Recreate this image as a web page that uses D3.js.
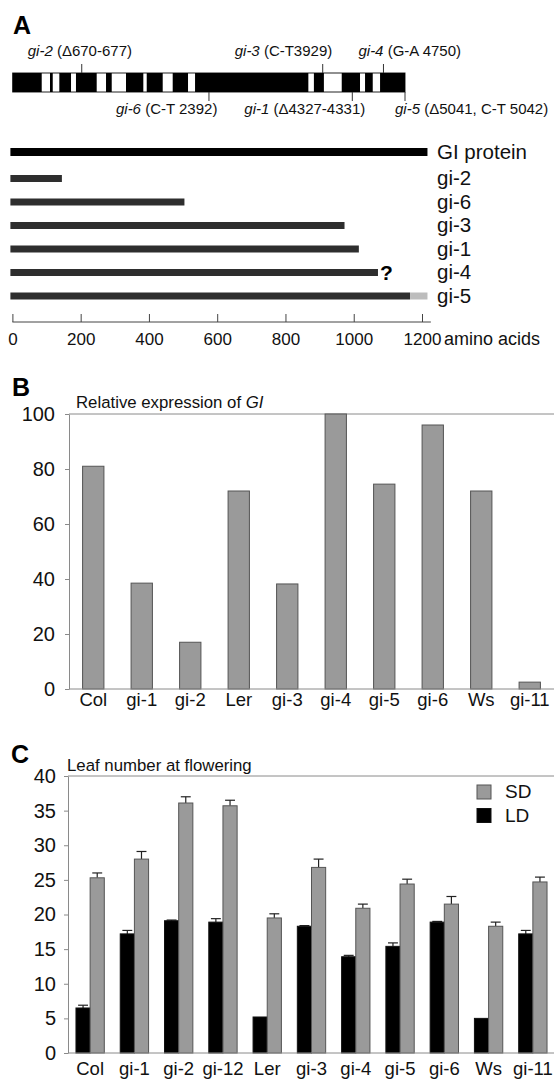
<!DOCTYPE html>
<html>
<head>
<meta charset="utf-8">
<script src="https://cdn.jsdelivr.net/npm/d3@7"></script>
<style>
  html, body { margin: 0; padding: 0; background: #fff; }
  svg { display: block; }
</style>
</head>
<body>
<script>
// ---------------- DATA ----------------
// Panel A: gene structure (bp coordinates)
const geneSpan = [-260, 5041];
const geneExons = [[-260,132],[244,281],[370,528],[595,875],[1001,1078],[1271,1505],[1551,1767],[1902,2109],[2204,3735],[3810,3945],[4186,4433],[4501,4605],[4704,5041]];
const mutNames = ["gi-2", "gi-3", "gi-4", "gi-6", "gi-1", "gi-5"];
const mutDetails = ["(\u0394670-677)", "(C-T3929)", "(G-A 4750)", "(C-T 2392)", "(\u03944327-4331)", "(\u03945041, C-T 5042)"];
const mutPositions = [673, 3929, 4750, 2392, 4329, 5041];
const mutSides = ["top", "top", "top", "bottom", "bottom", "bottom"];

// Panel A: protein lengths (amino acids)
const proteinNames = ["GI protein", "gi-2", "gi-6", "gi-3", "gi-1", "gi-4", "gi-5"];
const proteinLengths = [1216, 145, 504, 973, 1015, 1071, 1165];
const gi5Extension = [1165, 1216];
const aaTicks = [0, 200, 400, 600, 800, 1000, 1200];

// Panel B: relative expression of GI
const bLabels = ["Col", "gi-1", "gi-2", "Ler", "gi-3", "gi-4", "gi-5", "gi-6", "Ws", "gi-11"];
const bValues = [81, 38.5, 17, 72, 38.2, 100, 74.5, 96, 72, 2.5];
const bTicks = [0, 20, 40, 60, 80, 100];

// Panel C: leaf number at flowering
const cLabels = ["Col", "gi-1", "gi-2", "gi-12", "Ler", "gi-3", "gi-4", "gi-5", "gi-6", "Ws", "gi-11"];
const seriesNames = ["LD", "SD"];
const ldValues = [6.5, 17.2, 19.1, 18.9, 5.2, 18.3, 13.9, 15.4, 18.9, 5.0, 17.2];
const ldErrors = [0.4, 0.5, 0.1, 0.5, 0, 0.1, 0.2, 0.5, 0.1, 0, 0.5];
const sdValues = [25.3, 28, 36.1, 35.7, 19.5, 26.8, 20.9, 24.4, 21.5, 18.3, 24.7];
const sdErrors = [0.7, 1.1, 0.9, 0.8, 0.6, 1.2, 0.6, 0.7, 1.1, 0.6, 0.7];
const cTicks = [0, 5, 10, 15, 20, 25, 30, 35, 40];

// ---------------- LAYOUT / STYLE ----------------
const W = 554, H = 1084;
const FONT = "'Liberation Sans', Arial, Helvetica, sans-serif";
const mutLabelDx = [-54, -88, -25, -93, -108, -10];
const grayFill = "#9a9a9a", grayStroke = "#555", axisCol = "#8a8a8a";

const svg = d3.select("body").append("svg")
  .attr("width", W).attr("height", H)
  .style("font-family", FONT);

// panel letters
[["A", 13, 34], ["B", 12, 396], ["C", 11, 763]].forEach(([t, x, y]) => {
  svg.append("text").attr("x", x).attr("y", y).text(t)
    .attr("font-size", 25).attr("font-weight", "bold").attr("fill", "#000");
});

// ---------------- PANEL A ----------------
const gx = d3.scaleLinear().domain(geneSpan).range([12.7, 405]);
const gTop = 73, gBot = 92;
const gA = svg.append("g");
gA.append("rect").attr("x", gx(geneSpan[0])).attr("y", gTop)
  .attr("width", gx(geneSpan[1]) - gx(geneSpan[0])).attr("height", gBot - gTop)
  .attr("fill", "#fff").attr("stroke", "#222").attr("stroke-width", 1);
gA.selectAll("rect.exon").data(geneExons).join("rect").attr("class", "exon")
  .attr("x", d => gx(d[0])).attr("y", gTop)
  .attr("width", d => gx(d[1]) - gx(d[0])).attr("height", gBot - gTop)
  .attr("fill", "#000");

mutNames.forEach((n, i) => {
  const x = gx(mutPositions[i]);
  const top = mutSides[i] === "top";
  gA.append("line").attr("x1", x).attr("x2", x)
    .attr("y1", top ? 64 : gBot).attr("y2", top ? gTop : 101)
    .attr("stroke", "#333").attr("stroke-width", 1);
  const t = gA.append("text").attr("x", x + mutLabelDx[i]).attr("y", top ? 56 : 114)
    .attr("font-size", 15).attr("fill", "#111");
  t.append("tspan").attr("font-style", "italic").text(n);
  t.append("tspan").text(" " + mutDetails[i]);
});

const ax = d3.scaleLinear().domain([0, 1200]).range([12.4, 422]);
const rowY = d3.scalePoint().domain(proteinNames).range([155, 296]);
const rowYAdj = n => rowY(n) - (n === "GI protein" ? 3 : 0);

gA.selectAll("rect.prot").data(proteinNames).join("rect").attr("class", "prot")
  .attr("x", ax(0) - 2)
  .attr("y", n => rowYAdj(n) - (n === "GI protein" ? 4 : 3.5))
  .attr("width", (n, i) => ax(proteinLengths[i]) - ax(0) + 2)
  .attr("height", n => n === "GI protein" ? 8 : 7)
  .attr("fill", n => n === "GI protein" ? "#000" : "#2e2e2e");
gA.append("rect")
  .attr("x", ax(gi5Extension[0])).attr("y", rowYAdj("gi-5") - 3.5)
  .attr("width", ax(gi5Extension[1]) - ax(gi5Extension[0])).attr("height", 7)
  .attr("fill", "#bdbdbd");
gA.append("text").attr("x", ax(proteinLengths[5]) + 2).attr("y", rowYAdj("gi-4") + 7)
  .attr("font-size", 21).attr("font-weight", "bold").text("?");
gA.selectAll("text.plab").data(proteinNames).join("text").attr("class", "plab")
  .attr("x", 437).attr("y", n => rowYAdj(n) + 6.5)
  .attr("font-size", 20.5).attr("fill", "#111").text(n => n);

const aAxis = gA.append("g").attr("transform", "translate(0,322)")
  .call(d3.axisBottom(ax).tickValues(aaTicks).tickFormat(d3.format("d"))
    .tickSizeInner(-8).tickSizeOuter(0).tickPadding(11));
aAxis.select(".domain").remove();
aAxis.append("line").attr("x1", ax(0)).attr("x2", ax(1226)).attr("stroke", "#444");
aAxis.selectAll(".tick line").attr("stroke", "#444");
aAxis.selectAll(".tick text").attr("font-size", 17).attr("fill", "#111").attr("font-family", FONT);
gA.append("text").attr("x", 444).attr("y", 345).attr("font-size", 18).attr("fill", "#111").text("amino acids");

// ---------------- PANEL B ----------------
const bLeft = 69, bRight = 554, bTopY = 414, bBotY = 689;
const bx = d3.scaleBand().domain(bLabels).range([bLeft, bRight]).paddingInner(0.56).paddingOuter(0.28);
const by = d3.scaleLinear().domain([0, 100]).range([bBotY, bTopY]);
const gB = svg.append("g");
gB.append("text").attr("x", 76).attr("y", 408).attr("font-size", 16.8).attr("fill", "#111")
  .call(t => { t.append("tspan").text("Relative expression of "); t.append("tspan").attr("font-style", "italic").text("GI"); });
gB.append("line").attr("x1", bLeft).attr("x2", bRight).attr("y1", bTopY).attr("y2", bTopY).attr("stroke", axisCol);
gB.selectAll("rect.bar").data(bLabels).join("rect").attr("class", "bar")
  .attr("x", l => bx(l)).attr("width", bx.bandwidth())
  .attr("y", (l, i) => by(bValues[i])).attr("height", (l, i) => by(0) - by(bValues[i]))
  .attr("fill", grayFill).attr("stroke", grayStroke).attr("stroke-width", 1);
const bYAx = gB.append("g").attr("transform", `translate(${bLeft},0)`)
  .call(d3.axisLeft(by).tickValues(bTicks).tickSizeInner(4).tickSizeOuter(0).tickPadding(10));
bYAx.select(".domain").attr("stroke", axisCol);
bYAx.selectAll(".tick line").attr("stroke", axisCol);
bYAx.selectAll(".tick text").attr("font-size", 20).attr("fill", "#111").attr("font-family", FONT);
const bXAx = gB.append("g").attr("transform", `translate(0,${bBotY})`)
  .call(d3.axisBottom(bx).tickSize(0).tickPadding(4));
bXAx.select(".domain").attr("stroke", axisCol).attr("d", `M${bLeft},0H${bRight}`);
bXAx.selectAll(".tick text").attr("font-size", 18.5).attr("fill", "#111").attr("font-family", FONT);

// ---------------- PANEL C ----------------
const cLeft = 68, cRight = 555, cTopY = 776, cBotY = 1053;
const cx = d3.scaleBand().domain(cLabels).range([cLeft, cRight]).paddingInner(0.36).paddingOuter(0.18);
const cs = d3.scaleBand().domain(seriesNames).range([0, cx.bandwidth()]);
const cy = d3.scaleLinear().domain([0, 40]).range([cBotY, cTopY]);
const gC = svg.append("g");
gC.append("text").attr("x", 67).attr("y", 771).attr("font-size", 16.8).attr("fill", "#111").text("Leaf number at flowering");
gC.append("line").attr("x1", cLeft).attr("x2", 554).attr("y1", cTopY).attr("y2", cTopY).attr("stroke", axisCol);

const cData = cLabels.map((l, i) => ({ label: l, LD: ldValues[i], LDe: ldErrors[i], SD: sdValues[i], SDe: sdErrors[i] }));
const seriesStyle = { LD: { fill: "#000", stroke: "#111" }, SD: { fill: grayFill, stroke: grayStroke } };
seriesNames.forEach(s => {
  const grp = gC.append("g");
  grp.selectAll("line.err").data(cData.filter(d => d[s + "e"] > 0)).join("line")
    .attr("x1", d => cx(d.label) + cs(s) + cs.bandwidth() / 2)
    .attr("x2", d => cx(d.label) + cs(s) + cs.bandwidth() / 2)
    .attr("y1", d => cy(d[s])).attr("y2", d => cy(d[s] + d[s + "e"]))
    .attr("stroke", "#222").attr("stroke-width", 1.2);
  grp.selectAll("line.cap").data(cData.filter(d => d[s + "e"] > 0)).join("line")
    .attr("x1", d => cx(d.label) + cs(s) + cs.bandwidth() * 0.15)
    .attr("x2", d => cx(d.label) + cs(s) + cs.bandwidth() * 0.85)
    .attr("y1", d => cy(d[s] + d[s + "e"])).attr("y2", d => cy(d[s] + d[s + "e"]))
    .attr("stroke", "#222").attr("stroke-width", 1.2);
  grp.selectAll("rect").data(cData).join("rect")
    .attr("x", d => cx(d.label) + cs(s)).attr("width", cs.bandwidth())
    .attr("y", d => cy(d[s])).attr("height", d => cy(0) - cy(d[s]))
    .attr("fill", seriesStyle[s].fill).attr("stroke", seriesStyle[s].stroke).attr("stroke-width", 1);
});

const cYAx = gC.append("g").attr("transform", `translate(${cLeft},0)`)
  .call(d3.axisLeft(cy).tickValues(cTicks).tickSizeInner(4).tickSizeOuter(0).tickPadding(8));
cYAx.select(".domain").attr("stroke", axisCol);
cYAx.selectAll(".tick line").attr("stroke", axisCol);
cYAx.selectAll(".tick text").attr("font-size", 20).attr("fill", "#111").attr("font-family", FONT);
const cXAx = gC.append("g").attr("transform", `translate(0,${cBotY})`)
  .call(d3.axisBottom(cx).tickSize(0).tickPadding(9));
cXAx.select(".domain").attr("stroke", axisCol).attr("d", `M${cLeft},0H${cRight}`);
cXAx.selectAll(".tick text").attr("font-size", 18.5).attr("fill", "#111").attr("font-family", FONT);

// legend
const legendOrder = ["SD", "LD"];
const leg = gC.append("g");
legendOrder.forEach((s, i) => {
  leg.append("rect").attr("x", 477).attr("y", 785 + i * 23.5).attr("width", 14).attr("height", 14)
    .attr("fill", seriesStyle[s].fill).attr("stroke", seriesStyle[s].stroke);
  leg.append("text").attr("x", 505).attr("y", 798 + i * 23.5).attr("font-size", 19).attr("fill", "#111").text(s);
});
</script>
</body>
</html>
